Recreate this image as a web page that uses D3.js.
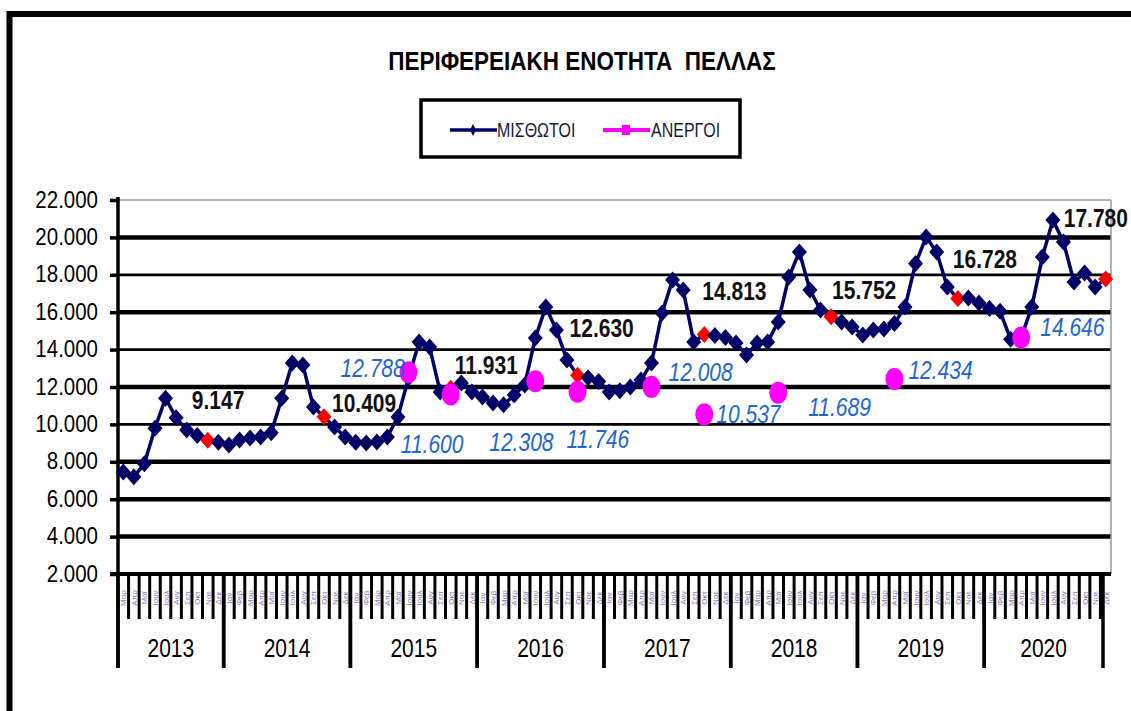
<!DOCTYPE html>
<html>
<head>
<meta charset="utf-8">
<script src="https://cdn.jsdelivr.net/npm/d3@7"></script>
<style>
  body { margin: 0; background: #fff; }
  text { font-family: "Liberation Sans", Arial, sans-serif; }
</style>
</head>
<body>
<svg id="chart"></svg>
<script>
// ---- data ----
var years = [2013, 2014, 2015, 2016, 2017, 2018, 2019, 2020];
var monthNames = ["Ιαν", "Φεβ", "Μαρ", "Απρ", "Μαϊ", "Ιουν", "Ιουλ", "Αυγ", "Σεπ", "Οκτ", "Νοε", "Δεκ"];
var firstMonth = 2; // series starts in March 2013

// ΜΙΣΘΩΤΟΙ, monthly, Mar 2013 - Dec 2020
var employed = [
  7450, 7200, 7900, 9800, 11400, 10350, 9700, 9400, 9147, 9050,
  8900, 9170, 9270, 9330, 9550, 11400, 13280, 13180, 10930, 10409, 9860, 9330,
  9050, 9000, 9060, 9330, 10400, 12480, 14400, 14140, 11730, 11931, 12210, 11730,
  11470, 11150, 11050, 11570, 12110, 14620, 16280, 15050, 13450, 12630, 12500, 12300,
  11730, 11800, 12000, 12370, 13280, 15960, 17720, 17190, 14410, 14813, 14750, 14650,
  14350, 13710, 14350, 14410, 15480, 17880, 19220, 17190, 16120, 15752, 15480, 15210,
  14780, 15050, 15100, 15400, 16280, 18600, 20020, 19220, 17350, 16728, 16760, 16490,
  16200, 16050, 14550, 14650, 16280, 18950, 20930, 19750, 17620, 18100, 17350, 17780
];

// months (index into the series) whose employed value is printed
var markedIdx = [8, 19, 31, 43, 55, 67, 79, 93];

// ΑΝΕΡΓΟΙ, only the printed points
var unempIdx = [27, 31, 39, 43, 50, 55, 62, 73, 85];
var unemployed = [12788, 11600, 12308, 11746, 12008, 10537, 11689, 12434, 14646];

var yTicks = [2000, 4000, 6000, 8000, 10000, 12000, 14000, 16000, 18000, 20000, 22000];

// label placement (px offsets from the marker)
var markedOffsets = [[-16, -40], [8, -13], [4, -23], [-8, -47], [-2, -43], [1, -27], [-5, -39], [-42, -61]];
var unempOffsets = [[-68, -4], [-50, 50], [-46, 61], [-11, 48], [17, -15], [12, 0], [30, 14], [14, -9], [19, -10]];

// ---- layout ----
var width = 1131;
var height = 711;
var plotLeft = 118, plotRight = 1111, plotTop = 200, plotBottom = 574;
var navy = "#000066";
var pink = "#ff00ff";

var svg = d3.select("#chart").attr("width", width).attr("height", height);

// category list
var months = [];
var monthYear = [];
years.forEach(function (yr) {
  monthNames.forEach(function (m, k) {
    if (yr == years[0] && k < firstMonth) return;
    months.push(m + " " + yr);
    monthYear.push(yr);
  });
});

var x = d3.scaleBand().domain(months).range([plotLeft, plotRight]);
var y = d3.scaleLinear().domain([2000, 22000]).range([plotBottom, plotTop]);
var cx = function (i) { return x(months[i]) + x.bandwidth() / 2; };

var fmt = d3.formatLocale({ decimal: ",", thousands: ".", grouping: [3], currency: ["", ""] }).format(",");

// text with the slightly tall look of the original
function tallText(g, px, py, str, size, sy) {
  var t = g.append("text");
  t.attr("transform", "translate(" + px + "," + py + ") scale(1," + sy + ")");
  t.attr("dominant-baseline", "central");
  t.attr("font-size", size + "px");
  t.text(str);
  return t;
}

// outer frame
svg.append("path")
  .attr("d", "M9.5," + height + "L9.5,14L" + width + ",14")
  .attr("fill", "none")
  .attr("stroke", "#000")
  .attr("stroke-width", 6);

// title
tallText(svg, 582, 61, "ΠΕΡΙΦΕΡΕΙΑΚΗ ΕΝΟΤΗΤΑ  ΠΕΛΛΑΣ", 22.5, 1.12)
  .attr("text-anchor", "middle")
  .attr("font-weight", "bold")
  .style("white-space", "pre");

// legend
var legend = svg.append("g");
legend.append("rect")
  .attr("x", 421).attr("y", 100).attr("width", 319).attr("height", 57)
  .attr("fill", "#fff").attr("stroke", "#000").attr("stroke-width", 3.5);
legend.append("line")
  .attr("x1", 450).attr("x2", 497).attr("y1", 130).attr("y2", 130)
  .attr("stroke", navy).attr("stroke-width", 3.5);
legend.append("path")
  .attr("d", "M473,124L476,130L473,136L470,130Z").attr("fill", navy);
tallText(legend, 497, 130, "ΜΙΣΘΩΤΟΙ", 16, 1.3).attr("fill", "#1a1a40");
legend.append("line")
  .attr("x1", 603).attr("x2", 650).attr("y1", 130).attr("y2", 130)
  .attr("stroke", pink).attr("stroke-width", 4);
legend.append("rect")
  .attr("x", 622).attr("y", 125).attr("width", 8).attr("height", 10).attr("fill", pink);
tallText(legend, 651, 130, "ΑΝΕΡΓΟΙ", 16, 1.3).attr("fill", "#1a1a40");

// grid lines
var thick = [4000, 6000, 8000, 12000, 16000, 20000];
yTicks.forEach(function (t) {
  if (t == 2000) return;
  var line = svg.append("line");
  line.attr("x1", plotLeft).attr("x2", plotRight).attr("y1", y(t)).attr("y2", y(t));
  if (t == 22000) {
    line.attr("stroke", "#999").attr("stroke-width", 1.5);
  } else {
    line.attr("stroke", "#000").attr("stroke-width", thick.indexOf(t) >= 0 ? 4.5 : 2.8);
  }
});

// right border of the plot
svg.append("line")
  .attr("x1", plotRight).attr("x2", plotRight).attr("y1", plotTop).attr("y2", plotBottom)
  .attr("stroke", "#999").attr("stroke-width", 1.5);

// y axis
var yAxis = svg.append("g")
  .attr("transform", "translate(" + plotLeft + ",0)")
  .call(d3.axisLeft(y).tickValues(yTicks).tickSize(8).tickPadding(12).tickFormat(fmt));
yAxis.select(".domain").remove();
yAxis.selectAll(".tick line").attr("stroke", "#000").attr("stroke-width", 3.5);
yAxis.selectAll("text")
  .attr("font-size", "20.5px")
  .attr("font-family", "Liberation Sans, Arial, sans-serif")
  .attr("fill", "#000")
  .attr("transform", "scale(1,1.15)")
  .attr("dy", "0.3em");

svg.append("line")
  .attr("x1", plotLeft).attr("x2", plotLeft).attr("y1", plotTop - 3).attr("y2", 668)
  .attr("stroke", "#000").attr("stroke-width", 3.5);

// x axis: month ticks, month labels, year separators
svg.append("line")
  .attr("x1", plotLeft - 8).attr("x2", plotRight).attr("y1", plotBottom).attr("y2", plotBottom)
  .attr("stroke", "#000").attr("stroke-width", 4);

months.forEach(function (m, i) {
  if (i > 0) {
    svg.append("line")
      .attr("x1", x(m)).attr("x2", x(m)).attr("y1", plotBottom).attr("y2", 619)
      .attr("stroke", "#000").attr("stroke-width", 3);
  }
  svg.append("text")
    .attr("transform", "translate(" + (cx(i) + 3) + ",598) rotate(-90)")
    .attr("text-anchor", "middle")
    .attr("font-size", "8px")
    .attr("fill", "#8a78b8")
    .text(m.split(" ")[0]);
});

years.forEach(function (yr) {
  var idx = monthYear.indexOf(yr);
  var last = monthYear.lastIndexOf(yr);
  var x0 = x(months[idx]);
  var x1 = x(months[last]) + x.bandwidth();
  if (yr == years[years.length - 1]) x1 = x1 - 8;
  [x0, x1].forEach(function (xx) {
    svg.append("line")
      .attr("x1", xx).attr("x2", xx).attr("y1", plotBottom).attr("y2", 668)
      .attr("stroke", "#000").attr("stroke-width", 3.5);
  });
  tallText(svg, (x0 + x1) / 2, 648, yr, 21, 1.2)
    .attr("text-anchor", "middle")
    .attr("fill", "#000");
});

// employed line and markers
var line = d3.line()
  .x(function (d, i) { return cx(i); })
  .y(function (d) { return y(d); });

svg.append("path")
  .attr("d", line(employed))
  .attr("fill", "none")
  .attr("stroke", navy)
  .attr("stroke-width", 3.5);

var diamond = function (px, py) {
  return "M" + px + "," + (py - 8.5) + "L" + (px + 7.5) + "," + py + "L" + px + "," + (py + 8.5) + "L" + (px - 7.5) + "," + py + "Z";
};

employed.forEach(function (v, i) {
  svg.append("path")
    .attr("d", diamond(cx(i), y(v)))
    .attr("fill", markedIdx.indexOf(i) >= 0 ? "#ff0000" : navy);
});

// unemployed points
unempIdx.forEach(function (idx, k) {
  svg.append("ellipse")
    .attr("cx", cx(idx)).attr("cy", y(unemployed[k]))
    .attr("rx", 9).attr("ry", 11)
    .attr("fill", pink);
});

// value labels
markedIdx.forEach(function (idx, k) {
  tallText(svg, cx(idx) + markedOffsets[k][0], y(employed[idx]) + markedOffsets[k][1], fmt(employed[idx]), 21, 1.2)
    .attr("font-weight", "bold")
    .attr("fill", "#111");
});

unempIdx.forEach(function (idx, k) {
  tallText(svg, cx(idx) + unempOffsets[k][0], y(unemployed[k]) + unempOffsets[k][1], fmt(unemployed[k]), 21, 1.2)
    .attr("font-style", "italic")
    .attr("fill", "#1f66d1");
});
</script>
</body>
</html>
